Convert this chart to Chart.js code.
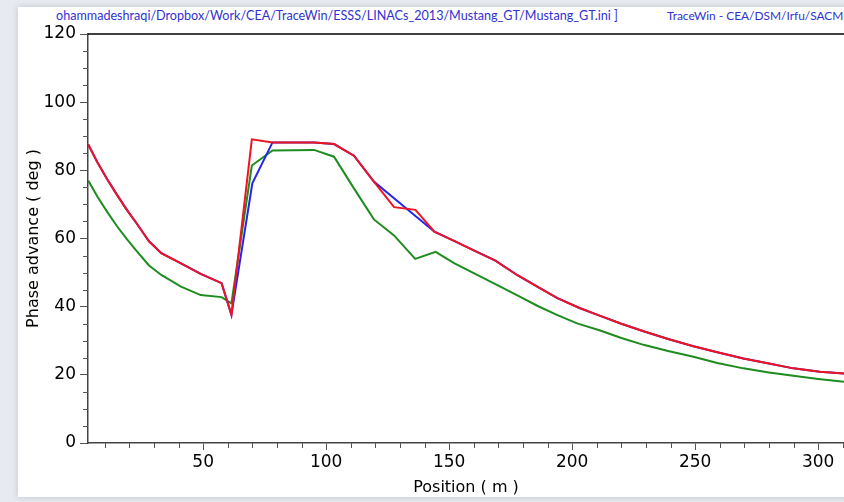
<!DOCTYPE html>
<html>
<head>
<meta charset="utf-8">
<script src="https://cdn.jsdelivr.net/npm/chart.js@4/dist/chart.umd.min.js"></script>
<style>
  html, body { margin: 0; padding: 0; }
  body { width: 844px; height: 502px; position: relative; overflow: hidden; background: #e7eaef; }
  #panel { position: absolute; left: 18px; top: 7px; width: 840px; height: 490px; background: #fff;
           box-shadow: 0 0 6px rgba(120,130,150,0.35); }
  .hdr { position: absolute; top: 8px; font-family: Lato, sans-serif; color: #3232d2; white-space: nowrap; }
  #chart { position: absolute; left: 0; top: 0; }
</style>
</head>
<body>
<div id="panel"></div>
<div class="hdr" style="left:56px; font-size:12.6px">ohammadeshraqi/Dropbox/Work/CEA/TraceWin/ESSS/LINACs_2013/Mustang_GT/Mustang_GT.ini ]</div>
<div class="hdr" style="left:667px; font-size:11.9px">TraceWin - CEA/DSM/Irfu/SACM</div>
<canvas id="chart" width="844" height="502"></canvas>
<script>
// positions (m) and phase advance (deg)
const redPos   = [3.3, 7, 11, 15, 19, 23, 28, 33, 41, 49, 57.5, 61.5, 69.8, 78.2, 95.1, 103.2, 111.3, 119.4, 127.6, 136.3, 144.0, 152, 160, 168.8, 177.6, 186, 194, 203, 211.4, 220, 229, 239, 249.3, 259, 269.6, 280, 289.9, 300.7, 310.5];
const redPhase = [87.6, 82.4, 77.4, 72.8, 68.4, 64.4, 59.2, 55.7, 52.7, 49.6, 46.9, 37.6, 89.1, 88.2, 88.2, 87.7, 84.3, 76.7, 69.2, 68.4, 62.0, 59.3, 56.5, 53.5, 49.3, 45.8, 42.5, 39.6, 37.3, 35.0, 32.8, 30.5, 28.4, 26.6, 24.8, 23.3, 21.9, 20.9, 20.4];

const bluePos   = [3.3, 7, 11, 15, 19, 23, 28, 33, 41, 49, 57.5, 61.5, 70.0, 78.2, 95.1, 103.2, 111.3, 119.4, 144.0, 152, 160, 168.8, 177.6, 186, 194, 203, 211.4, 220, 229, 239, 249.3, 259, 269.6, 280, 289.9, 300.7, 310.5];
const bluePhase = [87.6, 82.4, 77.4, 72.8, 68.4, 64.4, 59.2, 55.7, 52.7, 49.6, 46.9, 37.6, 76.2, 88.2, 88.2, 87.7, 84.3, 76.7, 62.0, 59.3, 56.5, 53.5, 49.3, 45.8, 42.5, 39.6, 37.3, 35.0, 32.8, 30.5, 28.4, 26.6, 24.8, 23.3, 21.9, 20.9, 20.4];

const greenPos   = [3.3, 7, 11, 15, 19, 23, 28, 33, 41, 49, 57.5, 61.5, 69.8, 78.2, 95.1, 103.2, 111.3, 119.4, 127.6, 136.2, 144.5, 152, 161.4, 170, 178.9, 186, 193.8, 202, 211.4, 220, 229, 239, 249.3, 259, 269.6, 280, 289.9, 300, 310.5];
const greenPhase = [77.0, 72.3, 67.8, 63.6, 59.8, 56.3, 52.1, 49.3, 45.9, 43.4, 42.8, 41.0, 81.4, 85.8, 86.0, 84.0, 74.7, 65.6, 60.9, 54.0, 56.1, 52.8, 49.3, 46.2, 42.9, 40.2, 37.6, 35.1, 33.0, 30.8, 28.8, 27.0, 25.3, 23.5, 21.9, 20.7, 19.7, 18.8, 18.0];

const xMin = 3.2, xMax = 310.5;
const yMin = 0, yMax = 120;
const xMajor = 50, xMinor = 10;
const yMajor = 20, yMinor = 5;

function toPoints(xs, ys) {
    return xs.map((x, i) => ({x: x, y: ys[i]}));
}

// small ticks between the labelled ones, and the frame line on top
const minorTicks = {
    id: 'minorTicks',
    afterDraw(chart) {
        const ctx = chart.ctx;
        const area = chart.chartArea;
        const x = chart.scales.x, y = chart.scales.y;
        ctx.save();
        ctx.strokeStyle = '#555';
        ctx.lineWidth = 1;
        ctx.beginPath();
        for (let v = yMin; v <= yMax; v += yMinor) {
            if (v % yMajor === 0) continue;
            const py = Math.round(y.getPixelForValue(v)) + 0.5;
            ctx.moveTo(area.left - 5, py);
            ctx.lineTo(area.left, py);
        }
        for (let v = xMinor; v <= xMax; v += xMinor) {
            if (v % xMajor === 0) continue;
            const px = Math.round(x.getPixelForValue(v)) + 0.5;
            ctx.moveTo(px, area.bottom);
            ctx.lineTo(px, area.bottom + 5);
        }
        ctx.stroke();
        ctx.strokeStyle = '#000';
        ctx.lineWidth = 1.5;
        ctx.beginPath();
        ctx.moveTo(area.left, area.top);
        ctx.lineTo(area.right, area.top);
        ctx.stroke();
        ctx.restore();
    }
};

const tickFont = {family: 'DejaVu Sans', size: 17};
const titleFont = {family: 'DejaVu Sans', size: 16};

new Chart(document.getElementById('chart'), {
    type: 'line',
    data: {
        datasets: [
            {data: toPoints(redPos, redPhase), borderColor: '#ee1520', borderWidth: 2, pointRadius: 0, tension: 0, fill: false},
            {data: toPoints(bluePos, bluePhase), borderColor: '#2424f0', borderWidth: 2, pointRadius: 0, tension: 0, fill: false},
            {data: toPoints(greenPos, greenPhase), borderColor: '#1e8c1e', borderWidth: 2, pointRadius: 0, tension: 0, fill: false},
        ]
    },
    options: {
        responsive: false,
        animation: false,
        devicePixelRatio: 1,
        layout: {padding: {top: 34, right: 0, bottom: 0, left: 0}},
        plugins: {legend: {display: false}, tooltip: {enabled: false}},
        scales: {
            x: {
                type: 'linear',
                min: xMin,
                max: xMax,
                afterFit(scale) { scale.height = 59; },
                border: {color: '#444', width: 1.5},
                grid: {drawOnChartArea: false, tickLength: 7, color: '#555'},
                ticks: {stepSize: xMajor, includeBounds: false, color: '#000', font: tickFont, padding: 2, maxRotation: 0, autoSkip: false},
                title: {display: true, text: 'Position ( m )', color: '#000', font: titleFont, padding: {top: 0, bottom: 5}}
            },
            y: {
                min: yMin,
                max: yMax,
                afterFit(scale) { scale.width = 88; },
                border: {color: '#444', width: 1.5},
                grid: {drawOnChartArea: false, tickLength: 8, color: '#555'},
                ticks: {stepSize: yMajor, color: '#000', font: tickFont, padding: 4, autoSkip: false},
                title: {display: true, text: 'Phase advance ( deg )', color: '#000', font: titleFont, padding: {top: 24, bottom: 0}}
            }
        }
    },
    plugins: [minorTicks]
});
</script>
</body>
</html>
